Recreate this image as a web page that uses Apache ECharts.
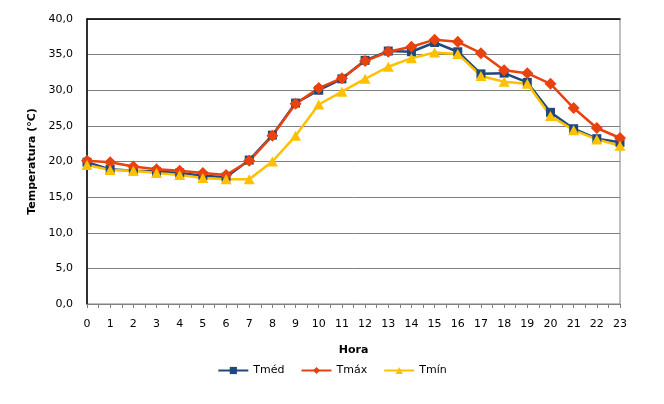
<!DOCTYPE html>
<html>
<head>
<meta charset="utf-8">
<script src="https://cdn.jsdelivr.net/npm/echarts@6/dist/echarts.min.js"></script>
<style>
html, body { margin: 0; padding: 0; background: #fff; }
#main { width: 664px; height: 404px; }
</style>
</head>
<body>
<div id="main"></div>
<script>
// horas do dia
var horas = [0,1,2,3,4,5,6,7,8,9,10,11,12,13,14,15,16,17,18,19,20,21,22,23];
var tMed = [19.9,18.9,18.7,18.6,18.4,18.0,17.8,20.2,23.7,28.2,30.0,31.6,34.2,35.5,35.4,36.7,35.4,32.3,32.4,31.1,26.9,24.6,23.2,22.7];
var tMax = [20.1,19.9,19.3,18.9,18.7,18.4,18.1,20.1,23.6,28.1,30.3,31.7,34.1,35.4,36.1,37.1,36.8,35.2,32.8,32.4,30.9,27.5,24.7,23.3];
var tMin = [19.5,18.8,18.7,18.4,18.1,17.7,17.5,17.5,20.0,23.6,28.0,29.8,31.6,33.3,34.5,35.3,35.1,32.0,31.2,30.9,26.4,24.4,23.1,22.2];

function pares(arr){
    var out = [];
    for(var i = 0; i < horas.length; i++){
        out.push([horas[i], arr[i]]);
    }
    return out;
}

var fonte = 'DejaVu Sans';
var myChart = echarts.init(document.getElementById('main'));

option = {
    backgroundColor: '#FFFFFF',
    animation: false,
    textStyle: { fontFamily: fonte },
    grid: {
        left: 87, right: 44, top: 19, bottom: 100,
        show: true, borderColor: '#808080', borderWidth: 1
    },
    legend: {
        bottom: 23,
        left: 'center',
        itemWidth: 30,
        itemHeight: 9,
        itemGap: 16,
        textStyle: { fontFamily: fonte, fontSize: 11, color: '#000' },
        data: ['Tméd', 'Tmáx', 'Tmín']
    },
    xAxis: [{
        type: 'value',
        min: 0,
        max: 23,
        interval: 1,
        name: 'Hora',
        nameLocation: 'middle',
        nameGap: 41,
        nameTextStyle: { fontFamily: fonte, fontSize: 11, fontWeight: 'bold', color: '#000' },
        axisLine: { show: true, lineStyle: { color: '#808080', width: 1 } },
        axisTick: { show: true, length: 4, lineStyle: { color: '#808080' } },
        minorTick: { show: true, splitNumber: 2, length: 4, lineStyle: { color: '#808080' } },
        axisLabel: { fontFamily: fonte, fontSize: 11, color: '#000', margin: 15 },
        splitLine: { show: false }
    }, {
        type: 'value',
        position: 'top',
        min: 0,
        max: 23,
        axisLine: { show: true, lineStyle: { color: '#000', width: 1.5 } },
        axisTick: { show: false },
        axisLabel: { show: false },
        splitLine: { show: false }
    }],
    yAxis: {
        type: 'value',
        min: 0,
        max: 40,
        interval: 5,
        name: 'Temperatura (°C)',
        nameLocation: 'middle',
        nameGap: 42,
        nameTextStyle: { fontFamily: fonte, fontSize: 11, fontWeight: 'bold', color: '#000' },
        axisLine: { show: true, lineStyle: { color: '#000', width: 1.5 } },
        axisTick: { show: false },
        axisLabel: {
            fontFamily: fonte, fontSize: 11, color: '#000', margin: 14,
            formatter: function(v){ return v.toFixed(1).replace('.', ','); }
        },
        splitLine: { show: true, lineStyle: { color: '#808080', width: 1 } }
    },
    series: [{
        name: 'Tméd',
        type: 'line',
        data: pares(tMed),
        symbol: 'rect',
        symbolSize: 9,
        color: '#1F497D',
        lineStyle: { width: 2.5, color: '#1F497D' },
        itemStyle: { color: '#1F497D' }
    }, {
        name: 'Tmáx',
        type: 'line',
        data: pares(tMax),
        symbol: 'diamond',
        symbolSize: [12, 12],
        color: '#E8420E',
        lineStyle: { width: 2.5, color: '#E8420E' },
        itemStyle: { color: '#E8420E' }
    }, {
        name: 'Tmín',
        type: 'line',
        data: pares(tMin),
        symbol: 'triangle',
        symbolSize: [11, 10],
        color: '#FFC000',
        lineStyle: { width: 2.5, color: '#FFC000' },
        itemStyle: { color: '#FFC000' }
    }]
};

myChart.setOption(option);
</script>
</body>
</html>
